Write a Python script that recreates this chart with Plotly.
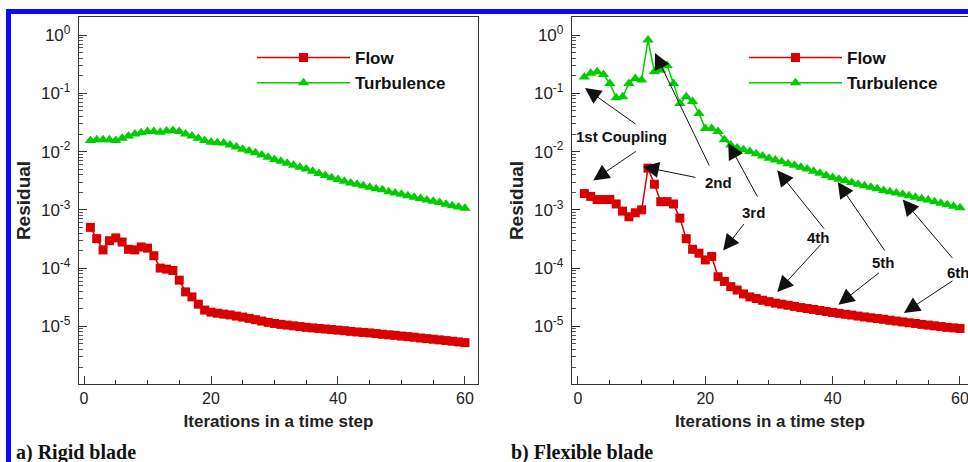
import math
import plotly.graph_objects as go

# ---------------- data ----------------
iterations = list(range(1, 61))

rigid_flow = [5.0e-4, 3.2e-4, 2.05e-4, 2.95e-4, 3.3e-4, 2.8e-4, 2.1e-4, 2.05e-4, 2.3e-4, 2.2e-4,
              1.63e-4, 1.0e-4, 9.6e-5, 9.1e-5, 6.2e-5, 3.9e-5, 3.2e-5, 2.4e-5, 1.9e-5, 1.75e-5,
              1.68e-5, 1.62e-5, 1.57e-5, 1.5e-5, 1.44e-5, 1.37e-5, 1.3e-5, 1.23e-5, 1.17e-5, 1.12e-5,
              1.08e-5, 1.05e-5, 1.02e-5, 9.9e-6, 9.6e-6, 9.4e-6, 9.2e-6, 9.0e-6, 8.8e-6, 8.6e-6,
              8.4e-6, 8.2e-6, 8.0e-6, 7.85e-6, 7.7e-6, 7.5e-6, 7.3e-6, 7.15e-6, 7.0e-6, 6.8e-6,
              6.65e-6, 6.5e-6, 6.3e-6, 6.15e-6, 6.0e-6, 5.85e-6, 5.7e-6, 5.55e-6, 5.4e-6, 5.25e-6]

rigid_turb = [1.55e-2, 1.6e-2, 1.6e-2, 1.6e-2, 1.55e-2, 1.7e-2, 1.85e-2, 2.0e-2, 2.1e-2, 2.2e-2,
              2.2e-2, 2.15e-2, 2.25e-2, 2.3e-2, 2.2e-2, 2.0e-2, 1.85e-2, 1.7e-2, 1.55e-2, 1.45e-2,
              1.42e-2, 1.4e-2, 1.3e-2, 1.2e-2, 1.1e-2, 1.02e-2, 9.5e-3, 8.7e-3, 8.0e-3, 7.3e-3,
              6.8e-3, 6.3e-3, 5.8e-3, 5.4e-3, 5.0e-3, 4.6e-3, 4.2e-3, 3.9e-3, 3.55e-3, 3.3e-3,
              3.1e-3, 2.9e-3, 2.75e-3, 2.6e-3, 2.45e-3, 2.3e-3, 2.2e-3, 2.05e-3, 1.95e-3, 1.85e-3,
              1.75e-3, 1.65e-3, 1.57e-3, 1.48e-3, 1.4e-3, 1.33e-3, 1.25e-3, 1.18e-3, 1.12e-3, 1.06e-3]

flex_flow = [1.9e-3, 1.7e-3, 1.5e-3, 1.5e-3, 1.5e-3, 1.26e-3, 9.5e-4, 7.6e-4, 8.9e-4, 1.0e-3,
             5.2e-3, 2.75e-3, 1.38e-3, 1.38e-3, 1.26e-3, 7.2e-4, 3.2e-4, 2.1e-4, 1.8e-4, 1.38e-4,
             1.58e-4, 7.1e-5, 5.9e-5, 4.8e-5, 4.2e-5, 3.6e-5, 3.2e-5, 3.0e-5, 2.8e-5, 2.65e-5,
             2.5e-5, 2.4e-5, 2.3e-5, 2.2e-5, 2.1e-5, 2.02e-5, 1.95e-5, 1.87e-5, 1.8e-5, 1.73e-5,
             1.67e-5, 1.61e-5, 1.56e-5, 1.5e-5, 1.45e-5, 1.4e-5, 1.36e-5, 1.32e-5, 1.27e-5, 1.23e-5,
             1.19e-5, 1.15e-5, 1.12e-5, 1.08e-5, 1.05e-5, 1.02e-5, 9.9e-6, 9.6e-6, 9.4e-6, 9.2e-6]

flex_turb = [0.19, 0.22, 0.235, 0.21, 0.148, 0.084, 0.087, 0.148, 0.18, 0.17,
             0.82, 0.235, 0.25, 0.30, 0.148, 0.067, 0.087, 0.072, 0.045, 0.025,
             0.025, 0.022, 0.016, 0.013, 1.15e-2, 1.07e-2, 1.0e-2, 9.2e-3, 8.4e-3, 7.7e-3,
             7.2e-3, 6.7e-3, 6.2e-3, 5.8e-3, 5.4e-3, 5.0e-3, 4.6e-3, 4.25e-3, 3.9e-3, 3.6e-3,
             3.35e-3, 3.15e-3, 2.95e-3, 2.75e-3, 2.6e-3, 2.45e-3, 2.3e-3, 2.15e-3, 2.05e-3, 1.95e-3,
             1.85e-3, 1.75e-3, 1.65e-3, 1.55e-3, 1.47e-3, 1.38e-3, 1.3e-3, 1.22e-3, 1.15e-3, 1.08e-3]

y_tick_vals = [1, 1e-1, 1e-2, 1e-3, 1e-4, 1e-5]
y_tick_text = ["10<sup>0</sup>", "10<sup>-1</sup>", "10<sup>-2</sup>",
               "10<sup>-3</sup>", "10<sup>-4</sup>", "10<sup>-5</sup>"]
x_tick_vals = [0, 20, 40, 60]

series_names = ["Flow", "Turbulence"]
panel_captions = ["a) Rigid blade", "b) Flexible blade"]

# coupling annotations (right panel): label, label position (iter, residual),
# arrow tips (iter, residual)
coupling_labels = ["1st Coupling", "2nd", "3rd", "4th", "5th", "6th"]
coupling_label_pos = [(6.8, 1.8e-2), (22.0, 3.0e-3), (27.6, 9.1e-4),
                      (37.8, 3.3e-4), (48.0, 1.23e-4), (59.7, 8.5e-5)]
coupling_tips = [[(1.1, 0.123), (2.4, 3.2e-3)],
                 [(12.1, 0.49), (10.2, 5.5e-3)],
                 [(23.6, 1.4e-2), (22.8, 2.0e-4)],
                 [(31.3, 4.8e-3), (31.3, 3.9e-5)],
                 [(40.8, 3.0e-3), (40.9, 2.35e-5)],
                 [(51.0, 1.5e-3), (51.2, 1.7e-5)]]
# arrow tail offsets in pixels relative to tip (style)
coupling_tails = [[(52, 37), (44, -30)],
                  [(55, 114), (54, 11)],
                  [(30, 55), (22, -28)],
                  [(48, 60), (45, -49)],
                  [(48, 70), (42, -33)],
                  [(51, 60), (50, -33)]]

# ---------------- style ----------------
RED = "#d80000"
GREEN = "#00cc00"
FONT = "Liberation Sans"

W, H = 968, 462
ML, MR, MT, MB = 79, 0, 17, 78
pw = W - ML - MR
ph = H - MT - MB

fig = go.Figure()

for xa, ya, flow, turb, leg in [("x", "y", rigid_flow, rigid_turb, "legend"),
                                ("x2", "y2", flex_flow, flex_turb, "legend2")]:
    fig.add_trace(go.Scatter(x=iterations, y=flow, xaxis=xa, yaxis=ya, name=series_names[0],
                             mode="lines+markers", legend=leg,
                             line=dict(color=RED, width=1.5),
                             marker=dict(symbol="square", size=9, color=RED)))
    fig.add_trace(go.Scatter(x=iterations, y=turb, xaxis=xa, yaxis=ya, name=series_names[1],
                             mode="lines+markers", legend=leg,
                             line=dict(color=GREEN, width=1.5),
                             marker=dict(symbol="triangle-up", size=10, color=GREEN)))

d1 = (478 - ML) / pw
d2 = (572 - ML) / pw

common_x = dict(showline=True, linecolor="#333", linewidth=1.3, mirror=True,
                ticks="inside", ticklen=8, tickwidth=1.3, tickcolor="#333",
                tickvals=x_tick_vals, showgrid=False, zeroline=False,
                ticklabeloverflow="allow",
                minor=dict(dtick=5, ticks="inside", ticklen=4, tickcolor="#333", showgrid=False),
                tickfont=dict(family=FONT, size=16, color="#222"),
                title=dict(text="<b>Iterations in a time step</b>", standoff=8,
                           font=dict(family=FONT, size=17, color="#222")))
common_y = dict(type="log", range=[-5.99, 0.31], showline=True, linecolor="#333", linewidth=1.3,
                ticks="inside", ticklen=8, tickwidth=1.3, tickcolor="#333",
                tickvals=y_tick_vals, ticktext=y_tick_text, showgrid=False, zeroline=False,
                minor=dict(dtick="D1", ticks="inside", ticklen=4, tickcolor="#555", showgrid=False),
                tickfont=dict(family=FONT, size=17, color="#222"), ticklabelstandoff=4,
                title=dict(text="<b>Residual</b>", standoff=5,
                           font=dict(family=FONT, size=19, color="#222")))

legend_style = dict(xanchor="left", yanchor="top", bgcolor="rgba(0,0,0,0)",
                    itemwidth=93, tracegroupgap=0,
                    font=dict(family=FONT, size=17, color="#111", weight="bold"))

fig.update_layout(
    width=W, height=H, margin=dict(l=ML, r=MR, t=MT, b=MB),
    paper_bgcolor="white", plot_bgcolor="white",
    xaxis=dict(domain=[0, d1], range=[-0.79, 62.05], anchor="y", **common_x),
    yaxis=dict(domain=[0, 1], anchor="x", mirror=True, **common_y),
    xaxis2=dict(domain=[d2, 1], range=[-0.94, 61.26], anchor="y2", **common_x),
    yaxis2=dict(domain=[0, 1], anchor="x2", mirror=False, **common_y),
    legend=dict(x=(252 - ML) / pw, y=1 - (40 - MT) / ph, **legend_style),
    legend2=dict(x=(744 - ML) / pw, y=1 - (40 - MT) / ph, **legend_style),
    showlegend=True,
)

# blue frame (top and left edges visible)
fig.add_shape(type="rect", xref="paper", yref="paper",
              x0=(8.5 - ML) / pw, x1=(1010 - ML) / pw,
              y0=1 + (MT - 11.5) / ph, y1=(H - MB - 520) / ph,
              line=dict(color="#0a0aff", width=5), fillcolor="rgba(0,0,0,0)", layer="above")

# captions
for i, cap in enumerate(panel_captions):
    fig.add_annotation(xref="paper", yref="paper", x=((14, 509)[i] - ML) / pw,
                       y=-(452 - (H - MB)) / ph, xanchor="left", yanchor="middle",
                       text="<b>" + cap + "</b>", showarrow=False,
                       font=dict(family="Liberation Serif", size=20, color="#111"))

# coupling annotations
for lab, pos, tips, tails in zip(coupling_labels, coupling_label_pos, coupling_tips, coupling_tails):
    fig.add_annotation(xref="x2", yref="y2", x=pos[0], y=math.log10(pos[1]),
                       text="<b>" + lab + "</b>", showarrow=False,
                       font=dict(family=FONT, size=15, color="#111"))
    for (tx, ty), (ox, oy) in zip(tips, tails):
        fig.add_annotation(xref="x2", yref="y2", x=tx, y=math.log10(ty), text="",
                           showarrow=True, arrowhead=2, arrowsize=3.2, arrowwidth=1,
                           arrowcolor="#111", ax=ox, ay=oy)

fig.write_html("out.html", config={"displayModeBar": False},
               post_script="document.body.style.margin='0';")
